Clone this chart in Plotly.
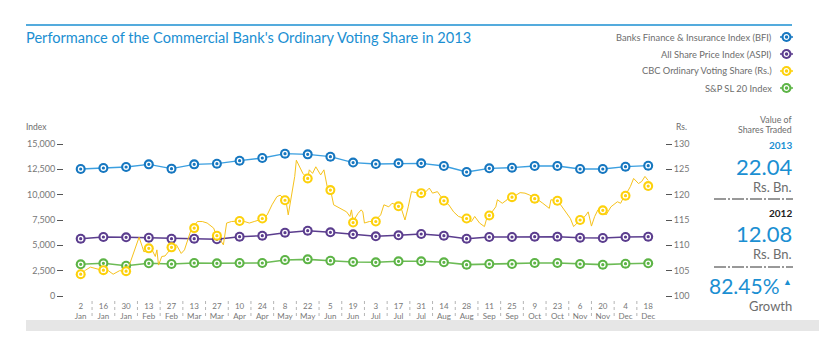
import pandas as pd
import plotly.graph_objects as go

# ---------------- data ----------------
marker_dates = list(pd.date_range("2013-01-02", periods=26, freq="14D"))
tick_labels = [f"{d.day}<br>{d.strftime('%b')}" for d in marker_dates]

bfi = [12533, 12632, 12730, 12993, 12566, 12993, 13059, 13355, 13618, 14046, 13980, 13750, 13170,
       13026, 13092, 13092, 12829, 12237, 12599, 12664, 12829, 12829, 12533, 12533, 12763, 12862]
aspi = [5654, 5822, 5793, 5753, 5654, 5654, 5595, 5852, 5950, 6246, 6444, 6286, 6088,
        5891, 5990, 6118, 5950, 5654, 5822, 5822, 5852, 5852, 5753, 5723, 5822, 5852]
spsl20 = [3128, 3227, 2990, 3227, 3158, 3256, 3227, 3256, 3256, 3552, 3618, 3486, 3355,
          3326, 3424, 3424, 3326, 3092, 3158, 3158, 3256, 3256, 3158, 3092, 3187, 3227]
cbc_markers = [104.3, 105.1, 104.9, 109.4, 109.6, 113.4, 111.9, 114.8, 115.3, 118.9, 123.2, 120.9, 114.5,
               114.7, 117.7, 120.3, 118.8, 115.3, 115.9, 119.5, 119.2, 118.8, 115.0, 116.9, 119.8, 121.7]

cbc_dates = ["2013-01-02", "2013-01-05", "2013-01-08", "2013-01-11", "2013-01-15", "2013-01-19", "2013-01-22",
             "2013-01-26", "2013-01-30", "2013-02-01", "2013-02-03", "2013-02-06", "2013-02-07", "2013-02-09",
             "2013-02-10", "2013-02-13", "2013-02-15", "2013-02-17", "2013-02-18", "2013-02-19", "2013-02-21",
             "2013-02-23", "2013-02-27", "2013-03-02", "2013-03-05", "2013-03-07", "2013-03-09", "2013-03-11",
             "2013-03-15", "2013-03-18", "2013-03-21", "2013-03-25", "2013-03-27", "2013-03-29", "2013-03-31",
             "2013-04-02", "2013-04-05", "2013-04-10", "2013-04-13", "2013-04-16", "2013-04-19", "2013-04-24",
             "2013-04-27", "2013-04-30", "2013-05-03", "2013-05-05", "2013-05-08", "2013-05-09", "2013-05-10",
             "2013-05-12", "2013-05-14", "2013-05-15", "2013-05-17", "2013-05-19", "2013-05-22", "2013-05-23",
             "2013-05-25", "2013-05-27", "2013-05-30", "2013-06-01", "2013-06-03", "2013-06-05", "2013-06-07",
             "2013-06-11", "2013-06-15", "2013-06-17", "2013-06-18", "2013-06-19", "2013-06-22", "2013-06-24",
             "2013-06-25", "2013-06-26", "2013-06-29", "2013-07-02", "2013-07-06", "2013-07-08", "2013-07-11",
             "2013-07-13", "2013-07-17", "2013-07-19", "2013-07-21", "2013-07-23", "2013-07-25", "2013-07-28",
             "2013-07-31", "2013-08-02", "2013-08-05", "2013-08-07", "2013-08-10", "2013-08-14", "2013-08-17",
             "2013-08-20", "2013-08-23", "2013-08-28", "2013-08-31", "2013-09-02", "2013-09-05", "2013-09-08",
             "2013-09-10", "2013-09-12", "2013-09-15", "2013-09-16", "2013-09-19", "2013-09-22", "2013-09-24",
             "2013-09-25", "2013-09-30", "2013-10-03", "2013-10-06", "2013-10-09", "2013-10-11", "2013-10-14",
             "2013-10-17", "2013-10-18", "2013-10-19", "2013-10-23", "2013-10-25", "2013-10-28", "2013-10-31",
             "2013-11-02", "2013-11-04", "2013-11-06", "2013-11-09", "2013-11-11", "2013-11-13", "2013-11-15",
             "2013-11-17", "2013-11-20", "2013-11-22", "2013-11-25", "2013-11-29", "2013-12-01", "2013-12-03",
             "2013-12-04", "2013-12-07", "2013-12-09", "2013-12-12", "2013-12-14", "2013-12-16", "2013-12-18"]
cbc_daily = [104.3, 105.1, 105.7, 105.5, 105.1, 105.0, 104.3,
             105.0, 104.8, 106.1, 107.8, 110.4, 111.6, 109.7,
             108.7, 109.3, 109.1, 107.8, 109.1, 106.1, 107.8,
             107.9, 109.5, 110.1, 108.4, 109.1, 111.1, 113.0,
             114.7, 114.7, 114.4, 113.4, 111.7, 111.1, 110.1,
             114.4, 114.7, 114.8, 114.7, 114.4, 114.7, 115.2,
             116.0, 118.0, 119.6, 119.9, 119.0, 118.0, 116.0,
             119.6, 123.6, 126.8, 125.5, 124.2, 123.2, 124.9,
             124.2, 125.5, 123.9, 124.9, 121.6, 121.1, 118.0,
             117.3, 116.6, 115.7, 117.0, 114.7, 116.3, 117.0,
             116.6, 114.4, 114.7, 114.7, 116.0, 118.0, 117.6,
             118.3, 117.8, 117.0, 115.0, 117.6, 120.6, 120.4,
             120.4, 120.3, 121.3, 120.3, 120.6, 118.8, 118.0,
             116.6, 115.7, 115.2, 114.7, 115.7, 114.4, 113.7,
             116.0, 116.3, 117.6, 119.0, 118.3, 119.0, 119.9,
             119.4, 120.4, 120.3, 119.9, 119.4, 119.0, 118.3,
             117.6, 117.3, 119.0, 118.8, 118.0, 116.6, 115.3,
             113.7, 114.4, 115.0, 115.7, 116.6, 113.8, 115.7,
             117.0, 117.0, 116.0, 117.6, 118.6, 118.3, 119.6,
             119.9, 121.6, 123.2, 122.2, 122.6, 123.6, 122.8]

legend_names = ["Banks Finance & Insurance Index (BFI)", "All Share Price Index (ASPI)",
                "CBC Ordinary Voting Share (Rs.)", "S&P SL 20 Index"]

# ---------------- style ----------------
FONT = "Lato"
BLUE = "#1677c0"
BLUE_LINE = "#3b9fe0"
PURPLE = "#5b3d8e"
YELLOW = "#fdd10c"
YELLOW_LINE = "#f6c21c"
GREEN = "#5db446"
GREEN_LINE = "#6cbb55"
TITLE_BLUE = "#1b8fd2"
GRAY = "#6d6d6d"

L, R, T, B = 64, 665, 144, 296
W, H = R - L, B - T


def px(x):
    return (x - L) / W


def py(y):
    return (B - y) / H


fig = go.Figure()


def add_series(x, y, line_x, line_y, color, line_color, lw, axis):
    fig.add_trace(go.Scatter(x=line_x, y=line_y, mode="lines", yaxis=axis,
                             line=dict(color=line_color, width=lw), hoverinfo="skip", showlegend=False))
    fig.add_trace(go.Scatter(x=x, y=y, mode="markers", yaxis=axis,
                             marker=dict(size=10, color=color, line=dict(width=0)),
                             hoverinfo="skip", showlegend=False))
    fig.add_trace(go.Scatter(x=x, y=y, mode="markers", yaxis=axis,
                             marker=dict(size=4.5, color=color, line=dict(width=1.3, color="white")),
                             hoverinfo="skip", showlegend=False))


add_series(marker_dates, spsl20, marker_dates, spsl20, GREEN, GREEN_LINE, 1.6, "y")
add_series(marker_dates, aspi, marker_dates, aspi, PURPLE, PURPLE, 1.5, "y")
add_series(marker_dates, bfi, marker_dates, bfi, BLUE, BLUE_LINE, 1.3, "y")
add_series(marker_dates, cbc_markers, cbc_dates, cbc_daily, YELLOW, YELLOW_LINE, 1.0, "y2")

x_start = marker_dates[0] - pd.Timedelta(days=10.3)
x_end = marker_dates[-1] + pd.Timedelta(days=10.36)

shapes = []
for a, b in zip(marker_dates[:-1], marker_dates[1:]):
    mid = a + (b - a) / 2
    shapes.append(dict(type="line", xref="x", yref="paper", x0=mid, x1=mid,
                       y0=py(301), y1=py(318), line=dict(color="#b5b5b5", width=1, dash="dot")))
shapes.append(dict(type="line", xref="paper", yref="paper", x0=px(26), x1=px(792), y0=py(25), y1=py(25),
                   line=dict(color=TITLE_BLUE, width=1.3)))
shapes.append(dict(type="rect", xref="paper", yref="paper", x0=px(26), x1=px(819), y0=py(320), y1=py(331),
                   fillcolor="#e6e6e6", line=dict(width=0), layer="below"))
for yy in (199, 267):
    shapes.append(dict(type="line", xref="paper", yref="paper", x0=px(714), x1=px(793), y0=py(yy), y1=py(yy),
                       line=dict(color="#333333", width=1, dash="12px,2px,2px,2px")))

annotations = []
legend_colors = [BLUE, PURPLE, YELLOW, GREEN]
legend_y = [37, 54, 71, 88]
for name, col, yy in zip(legend_names, legend_colors, legend_y):
    annotations.append(dict(x=px(774), y=py(yy), xref="paper", yref="paper", text=name, showarrow=False,
                            xanchor="right", yanchor="middle", font=dict(family=FONT, size=9.3, color=GRAY)))
    shapes.append(dict(type="line", xref="paper", yref="paper", x0=px(780), x1=px(793), y0=py(yy), y1=py(yy),
                       line=dict(color=col, width=1.5)))
    shapes.append(dict(type="circle", xref="paper", yref="paper", xsizemode="pixel", ysizemode="pixel",
                       xanchor=px(786.5), yanchor=py(yy), x0=-5, x1=5, y0=-5, y1=5,
                       fillcolor=col, line=dict(width=0)))
    shapes.append(dict(type="circle", xref="paper", yref="paper", xsizemode="pixel", ysizemode="pixel",
                       xanchor=px(786.5), yanchor=py(yy), x0=-2.3, x1=2.3, y0=-2.3, y1=2.3,
                       fillcolor=col, line=dict(width=1.2, color="white")))


def note(x, y, text, size, color, anchor="right", bold=False):
    if bold:
        text = f"<b>{text}</b>"
    annotations.append(dict(x=px(x), y=py(y), xref="paper", yref="paper", text=text, showarrow=False,
                            xanchor=anchor, yanchor="middle", font=dict(family=FONT, size=size, color=color)))


note(24, 38, "Performance of the Commercial Bank's Ordinary Voting Share in 2013", 14.6, TITLE_BLUE, anchor="left")
note(24, 127, "Index", 8.5, GRAY, anchor="left")
note(674, 127, "Rs.", 8.5, GRAY, anchor="left")

note(794, 119, "Value of", 8.8, GRAY)
note(794, 129, "Shares Traded", 8.8, GRAY)
note(794, 145, "2013", 10, TITLE_BLUE, bold=True)
note(794, 166, "22.04", 22, TITLE_BLUE)
note(794, 187, "Rs. Bn.", 13, GRAY)
note(794, 213, "2012", 10, "#222222", bold=True)
note(794, 233, "12.08", 22, TITLE_BLUE)
note(794, 254, "Rs. Bn.", 13, GRAY)
note(782, 285, "82.45%", 21, TITLE_BLUE)
note(794, 281, "▲", 9, TITLE_BLUE)
note(794, 306, "Growth", 13, GRAY)

fig.update_layout(
    width=819, height=356,
    margin=dict(l=L, r=819 - R, t=T, b=356 - B, pad=0),
    paper_bgcolor="white", plot_bgcolor="white",
    showlegend=False,
    font=dict(family=FONT, color=GRAY),
    xaxis=dict(type="date", range=[x_start, x_end], tickvals=marker_dates, ticktext=tick_labels,
               ticks="", showline=False, showgrid=False, zeroline=False,
               tickfont=dict(family=FONT, size=8, color="#777777"), ticklabelstandoff=4),
    yaxis=dict(range=[0, 15000], tickvals=[0, 2500, 5000, 7500, 10000, 12500, 15000], tickformat=",",
               ticks="outside", ticklen=6, tickcolor="#555555", tickwidth=1,
               showline=False, showgrid=False, zeroline=False,
               tickfont=dict(family=FONT, size=9, color="#777777")),
    yaxis2=dict(range=[100, 130], tickvals=[100, 105, 110, 115, 120, 125, 130], overlaying="y", side="right",
                ticks="outside", ticklen=6, tickcolor="#555555", tickwidth=1,
                showline=False, showgrid=False, zeroline=False,
                tickfont=dict(family=FONT, size=9, color="#777777")),
    shapes=shapes,
    annotations=annotations,
)

fig.write_html("out.html", config={"displayModeBar": False},
               post_script="document.body.style.margin='0';document.body.style.overflow='hidden';")
